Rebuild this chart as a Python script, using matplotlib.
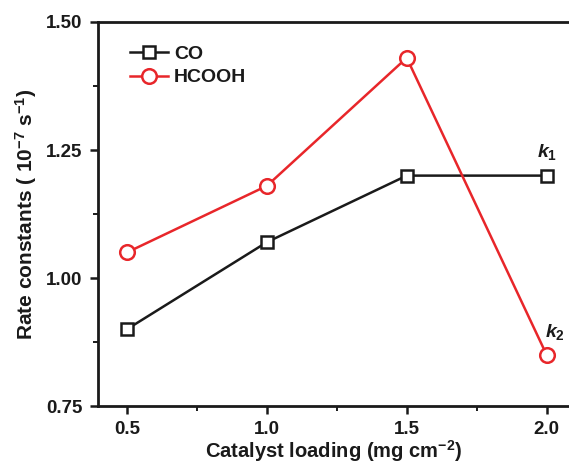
import matplotlib
matplotlib.use("Agg")
import matplotlib.pyplot as plt
from matplotlib.ticker import MultipleLocator

loading = [0.5, 1.0, 1.5, 2.0]
co = [0.90, 1.07, 1.20, 1.20]
hcooh = [1.05, 1.18, 1.43, 0.85]
xticks = [0.5, 1.0, 1.5, 2.0]
yticks = [0.75, 1.00, 1.25, 1.50]

plt.rcParams['font.family'] = ['Liberation Sans', 'DejaVu Sans']
plt.rcParams['font.weight'] = 'bold'
plt.rcParams['mathtext.fontset'] = 'custom'
plt.rcParams['mathtext.rm'] = 'Liberation Sans:bold'
plt.rcParams['mathtext.it'] = 'Liberation Sans:bold:italic'
plt.rcParams['mathtext.bf'] = 'Liberation Sans:bold'
plt.rcParams['mathtext.default'] = 'rm'

fig = plt.figure(figsize=(5.69, 4.63), dpi=100)
ax = fig.add_axes([0.172, 0.123, 0.828, 0.8295])

red = '#e8262a'
ax.plot(loading, co, color='#1a1a1a', lw=1.8, marker='s', ms=8.5, mfc='white',
        mec='#1a1a1a', mew=1.8, label='CO')
ax.plot(loading, hcooh, color=red, lw=1.8, marker='o', ms=10.5, mfc='white',
        mec=red, mew=1.8, label='HCOOH')

ax.set_xlim(0.396, 2.08)
ax.set_ylim(0.75, 1.50)
ax.set_xticks(xticks)
ax.set_xticklabels(['%.1f' % v for v in xticks])
ax.set_yticks(yticks)
ax.set_yticklabels(['%.2f' % v for v in yticks])
ax.xaxis.set_minor_locator(MultipleLocator(0.25))
ax.yaxis.set_minor_locator(MultipleLocator(0.125))
ax.tick_params(which='major', direction='out', length=6, width=1.8, labelsize=13.5,
               pad=5, colors='#1a1a1a')
ax.tick_params(which='minor', direction='out', length=3.5, width=1.4, colors='#1a1a1a')
ax.tick_params(top=False, right=False, which='both')

for s in ['left', 'bottom', 'top']:
    ax.spines[s].set_linewidth(2.0)
    ax.spines[s].set_color('#1a1a1a')
ax.spines['right'].set_visible(False)

ax.set_xlabel('Catalyst loading (mg cm$^{-2}$)', fontsize=14.5, fontweight='bold',
              labelpad=0, color='#1a1a1a')
ax.set_ylabel('Rate constants ( 10$^{-7}$ s$^{-1}$)', fontsize=15, fontweight='bold',
              labelpad=5, color='#1a1a1a')

ax.text(2.0, 1.246, '$\\mathit{k}_1$', fontsize=14, ha='center', va='center', color='#1a1a1a')
ax.text(2.03, 0.895, '$\\mathit{k}_2$', fontsize=14, ha='center', va='center', color='#1a1a1a')

leg = ax.legend(loc='upper left', bbox_to_anchor=(0.03, 0.985), frameon=False,
                fontsize=14, handlelength=2.0, handletextpad=0.3, labelspacing=0.3)
for t in leg.get_texts():
    t.set_color('#1a1a1a')

fig.savefig('out.png', dpi=100)
